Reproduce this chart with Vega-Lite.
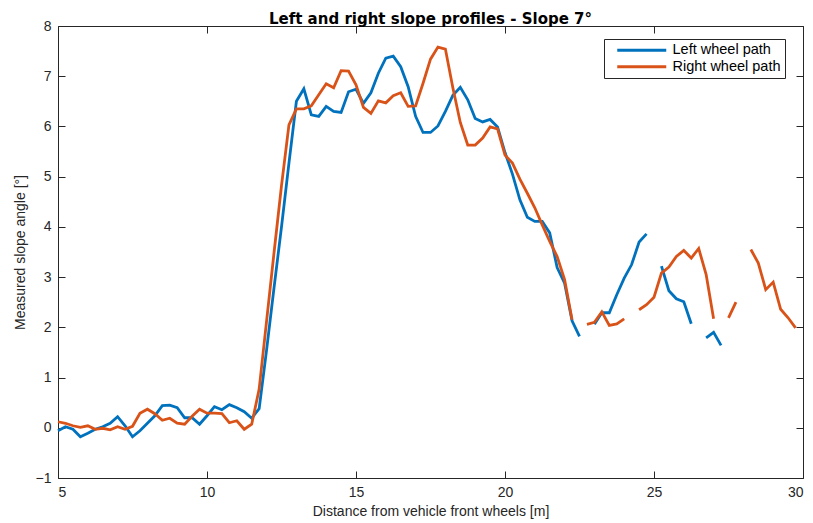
{
  "$schema": "https://vega.github.io/schema/vega-lite/v6.json",
  "autosize": {"type": "none"},
  "width": 745,
  "height": 452,
  "padding": {"left": 58, "top": 26, "right": 10, "bottom": 45},
  "background": "white",
  "title": {
    "text": "Left and right slope profiles - Slope 7°",
    "font": "DejaVu Sans",
    "fontSize": 15,
    "fontWeight": "bold",
    "color": "#000000",
    "offset": -8
  },
  "config": {
    "font": "Liberation Sans",
    "view": {"stroke": "#262626", "strokeWidth": 1},
    "axis": {
      "domain": false,
      "grid": false,
      "tickColor": "#262626",
      "tickSize": -7,
      "tickWidth": 1,
      "labelColor": "#262626",
      "labelFont": "Liberation Sans",
      "labelFontSize": 14,
      "titleColor": "#262626",
      "titleFont": "Liberation Sans",
      "titleFontSize": 14,
      "titleFontWeight": "normal"
    }
  },
  "data": {
    "values": [
      {"d": 5.0, "left": -0.06, "right": 0.12},
      {"d": 5.25, "left": 0.02, "right": 0.09},
      {"d": 5.5, "left": -0.03, "right": 0.04},
      {"d": 5.75, "left": -0.18, "right": 0.01},
      {"d": 6.0, "left": -0.11, "right": 0.04},
      {"d": 6.25, "left": -0.03, "right": -0.03},
      {"d": 6.5, "left": 0.02, "right": -0.01},
      {"d": 6.75, "left": 0.09, "right": -0.04},
      {"d": 7.0, "left": 0.22, "right": 0.02},
      {"d": 7.25, "left": 0.04, "right": -0.03},
      {"d": 7.5, "left": -0.18, "right": 0.03},
      {"d": 7.75, "left": -0.06, "right": 0.29},
      {"d": 8.0, "left": 0.09, "right": 0.37},
      {"d": 8.25, "left": 0.24, "right": 0.28},
      {"d": 8.5, "left": 0.44, "right": 0.15},
      {"d": 8.75, "left": 0.45, "right": 0.19},
      {"d": 9.0, "left": 0.4, "right": 0.09},
      {"d": 9.25, "left": 0.2, "right": 0.07},
      {"d": 9.5, "left": 0.2, "right": 0.23},
      {"d": 9.75, "left": 0.07, "right": 0.37},
      {"d": 10.0, "left": 0.24, "right": 0.29},
      {"d": 10.25, "left": 0.42, "right": 0.29},
      {"d": 10.5, "left": 0.36, "right": 0.28},
      {"d": 10.75, "left": 0.46, "right": 0.1},
      {"d": 11.0, "left": 0.4, "right": 0.14},
      {"d": 11.25, "left": 0.32, "right": -0.03},
      {"d": 11.5, "left": 0.19, "right": 0.07},
      {"d": 11.75, "left": 0.38, "right": 0.77},
      {"d": 12.0, "left": 1.55, "right": 2.13},
      {"d": 12.25, "left": 2.79, "right": 3.49},
      {"d": 12.5, "left": 4.0, "right": 4.82},
      {"d": 12.75, "left": 5.27, "right": 6.03},
      {"d": 13.0, "left": 6.5, "right": 6.35},
      {"d": 13.25, "left": 6.75, "right": 6.35},
      {"d": 13.5, "left": 6.23, "right": 6.41},
      {"d": 13.75, "left": 6.2, "right": 6.63},
      {"d": 14.0, "left": 6.4, "right": 6.85},
      {"d": 14.25, "left": 6.3, "right": 6.77},
      {"d": 14.5, "left": 6.28, "right": 7.11},
      {"d": 14.75, "left": 6.69, "right": 7.1},
      {"d": 15.0, "left": 6.74, "right": 6.83},
      {"d": 15.25, "left": 6.46, "right": 6.38},
      {"d": 15.5, "left": 6.67, "right": 6.26},
      {"d": 15.75, "left": 7.06, "right": 6.51},
      {"d": 16.0, "left": 7.36, "right": 6.47},
      {"d": 16.25, "left": 7.4, "right": 6.61},
      {"d": 16.5, "left": 7.19, "right": 6.67},
      {"d": 16.75, "left": 6.79, "right": 6.4},
      {"d": 17.0, "left": 6.2, "right": 6.41},
      {"d": 17.25, "left": 5.88, "right": 6.86},
      {"d": 17.5, "left": 5.88, "right": 7.34},
      {"d": 17.75, "left": 6.01, "right": 7.58},
      {"d": 18.0, "left": 6.3, "right": 7.54},
      {"d": 18.25, "left": 6.62, "right": 6.77},
      {"d": 18.5, "left": 6.78, "right": 6.08},
      {"d": 18.75, "left": 6.53, "right": 5.63},
      {"d": 19.0, "left": 6.16, "right": 5.63},
      {"d": 19.25, "left": 6.09, "right": 5.77},
      {"d": 19.5, "left": 6.14, "right": 5.99},
      {"d": 19.75, "left": 5.99, "right": 5.95},
      {"d": 20.0, "left": 5.48, "right": 5.43},
      {"d": 20.25, "left": 5.05, "right": 5.27},
      {"d": 20.5, "left": 4.54, "right": 4.95},
      {"d": 20.75, "left": 4.19, "right": 4.67},
      {"d": 21.0, "left": 4.11, "right": 4.38},
      {"d": 21.25, "left": 4.11, "right": 4.04},
      {"d": 21.5, "left": 3.88, "right": 3.71},
      {"d": 21.75, "left": 3.19, "right": 3.41},
      {"d": 22.0, "left": 2.88, "right": 2.95},
      {"d": 22.25, "left": 2.13, "right": 2.15},
      {"d": 22.5, "left": 1.82, "right": null},
      {"d": 22.75, "left": null, "right": 2.06},
      {"d": 23.0, "left": 2.06, "right": 2.1},
      {"d": 23.25, "left": 2.29, "right": 2.31},
      {"d": 23.5, "left": 2.29, "right": 2.04},
      {"d": 23.75, "left": 2.65, "right": 2.07},
      {"d": 24.0, "left": 2.98, "right": 2.17},
      {"d": 24.25, "left": 3.25, "right": null},
      {"d": 24.5, "left": 3.7, "right": 2.35},
      {"d": 24.75, "left": 3.86, "right": 2.45},
      {"d": 25.0, "left": null, "right": 2.6},
      {"d": 25.25, "left": 3.22, "right": 3.08},
      {"d": 25.5, "left": 2.73, "right": 3.2},
      {"d": 25.75, "left": 2.57, "right": 3.41},
      {"d": 26.0, "left": 2.51, "right": 3.53},
      {"d": 26.25, "left": 2.07, "right": 3.38},
      {"d": 26.5, "left": null, "right": 3.57},
      {"d": 26.75, "left": 1.79, "right": 3.05},
      {"d": 27.0, "left": 1.9, "right": 2.17},
      {"d": 27.25, "left": 1.64, "right": null},
      {"d": 27.5, "left": null, "right": 2.19},
      {"d": 27.75, "left": null, "right": 2.5},
      {"d": 28.0, "left": null, "right": null},
      {"d": 28.25, "left": null, "right": 3.55},
      {"d": 28.5, "left": null, "right": 3.28},
      {"d": 28.75, "left": null, "right": 2.75},
      {"d": 29.0, "left": null, "right": 2.9},
      {"d": 29.25, "left": null, "right": 2.36},
      {"d": 29.5, "left": null, "right": 2.19},
      {"d": 29.75, "left": null, "right": 1.99},
      {"d": 30.0, "left": null, "right": null}
    ]
  },
  "transform": [
    {"fold": ["left", "right"], "as": ["path", "angle"]}
  ],
  "layer": [
    {
      "mark": {
        "type": "line",
        "strokeWidth": 2.8,
        "invalid": "break-paths-show-domains"
      },
      "encoding": {
        "x": {
          "field": "d",
          "type": "quantitative",
          "scale": {"domain": [5, 30], "nice": false, "zero": false},
          "axis": {
            "orient": "bottom",
            "values": [5, 10, 15, 20, 25, 30],
            "labelPadding": 14,
            "title": "Distance from vehicle front wheels [m]",
            "titlePadding": 5
          }
        },
        "y": {
          "field": "angle",
          "type": "quantitative",
          "scale": {"domain": [-1, 8], "nice": false, "zero": false},
          "axis": {
            "orient": "left",
            "values": [-1, 0, 1, 2, 3, 4, 5, 6, 7, 8],
            "labelPadding": 14,
            "title": "Measured slope angle [°]",
            "titlePadding": 8
          }
        },
        "color": {
          "field": "path",
          "type": "nominal",
          "scale": {"domain": ["left", "right"], "range": ["#0072BD", "#D95319"]},
          "legend": {
            "title": null,
            "orient": "none",
            "legendX": 546,
            "legendY": 13,
            "labelExpr": "datum.value == 'left' ? 'Left wheel path' : 'Right wheel path'",
            "labelFont": "Liberation Sans",
            "labelFontSize": 14.5,
            "labelColor": "#000000",
            "labelOffset": 50,
            "labelLimit": 300,
            "symbolType": "M0.4,0H10.2",
            "symbolSize": 100,
            "symbolStrokeWidth": 3,
            "strokeColor": "#262626",
            "fillColor": "#ffffff",
            "padding": 4,
            "rowPadding": 1.5
          }
        }
      }
    },
    {
      "mark": {"type": "point", "opacity": 0},
      "encoding": {
        "x": {
          "field": "d",
          "type": "quantitative",
          "axis": {"orient": "top", "values": [5, 10, 15, 20, 25, 30], "labels": false, "title": null}
        },
        "y": {
          "field": "angle",
          "type": "quantitative",
          "axis": {"orient": "right", "values": [-1, 0, 1, 2, 3, 4, 5, 6, 7, 8], "labels": false, "title": null}
        }
      }
    }
  ],
  "resolve": {"axis": {"x": "independent", "y": "independent"}}
}
